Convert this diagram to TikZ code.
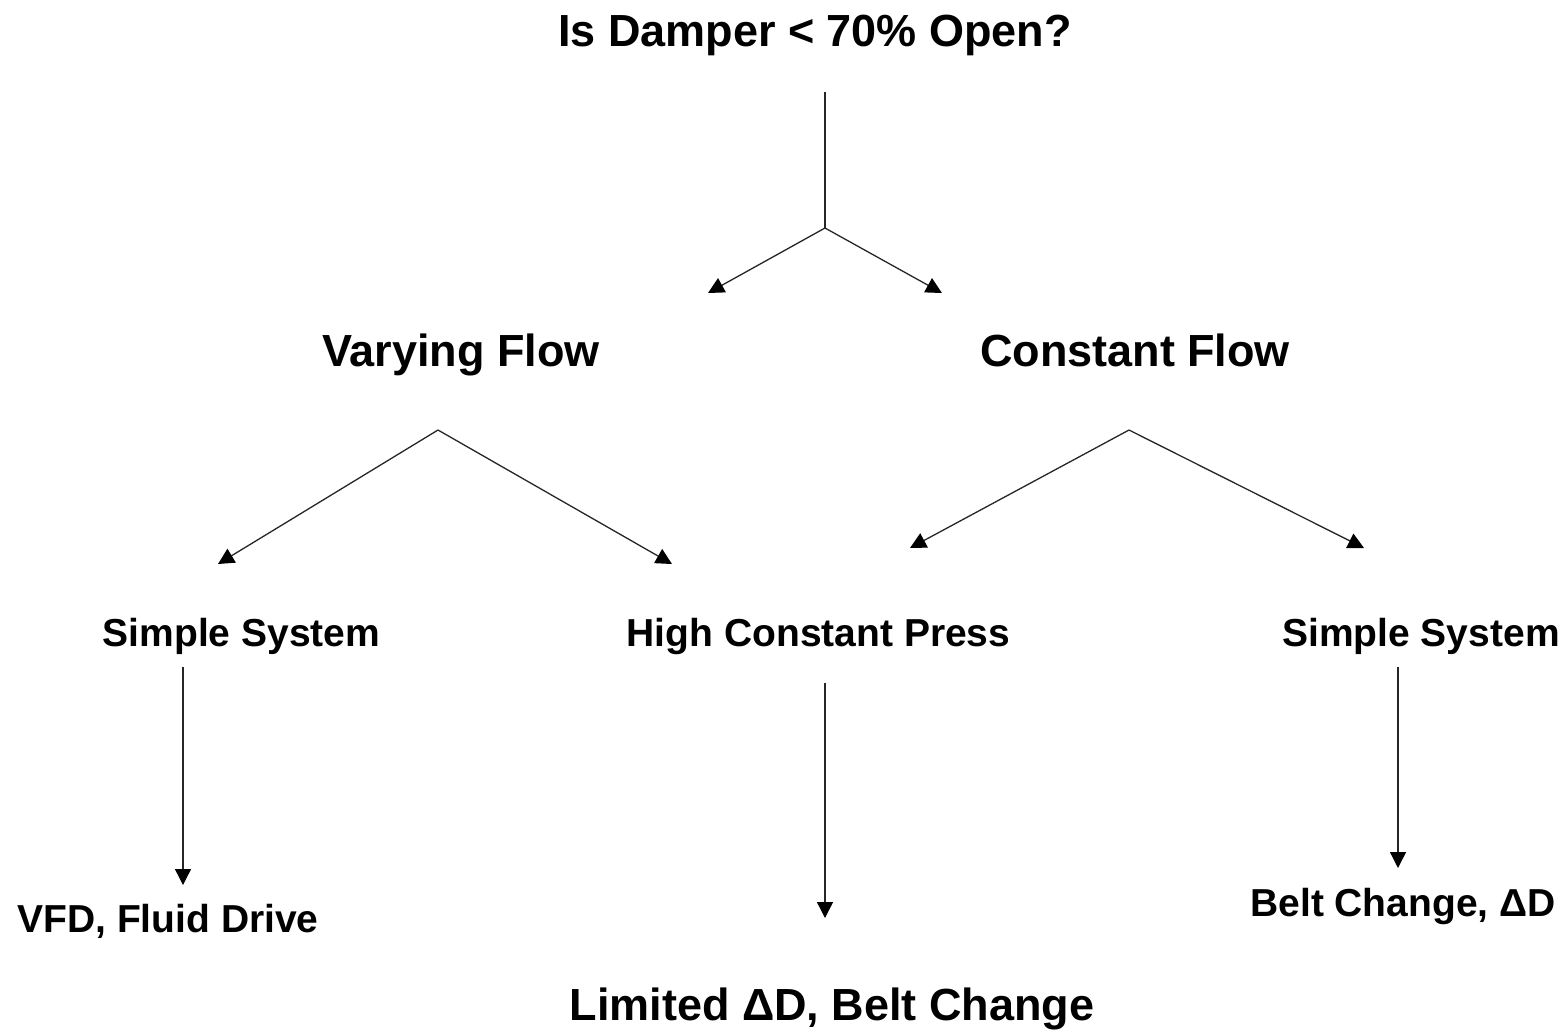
\documentclass[tikz,border=0pt]{standalone}
\usepackage{fontspec}
\setmainfont{Liberation Sans}
\usetikzlibrary{arrows.meta}
\tikzset{
  lbl/.style={inner sep=0pt, anchor=base, font=\bfseries},
  big/.style={lbl, font=\fontsize{45}{50}\selectfont\bfseries},
  small/.style={lbl, font=\fontsize{39}{44}\selectfont\bfseries},
  conn/.style={line width=1.3pt, draw=black!85},
  arr/.style={conn, -{Triangle[length=16pt,width=16pt,color=black]}}
}
\begin{document}
\begin{tikzpicture}[x=1pt,y=-1pt]
\useasboundingbox (0,0) rectangle (1568,1029);
% labels
\node[big] (title) at (815,46) {Is Damper < 70\% Open?};
\node[big] (vary) at (461,366) {Varying Flow};
\node[big] (const) at (1135,366) {Constant Flow};
\node[small] (simpleL) at (241.5,646) {Simple System};
\node[small] (high) at (818.5,646) {High Constant Press};
\node[small] (simpleR) at (1421,646) {Simple System};
\node[small] (vfd) at (168,932) {VFD, Fluid Drive};
\node[small] (beltR) at (1403,916) {Belt Change, ΔD};
\node[big] (limited) at (832,1020) {Limited ΔD, Belt Change};
% connector points
\coordinate (t0) at (825,92);
\coordinate (t1) at (825,228);
\coordinate (tL) at (708,293);
\coordinate (tR) at (942,293);
\coordinate (v0) at (438,430);
\coordinate (vL) at (218,564);
\coordinate (vR) at (672,564);
\coordinate (c0) at (1129,430);
\coordinate (cL) at (910,548);
\coordinate (cR) at (1364,548);
\coordinate (s0) at (183,667);
\coordinate (s1) at (183,885);
\coordinate (h0) at (825,683);
\coordinate (h1) at (825,918);
\coordinate (r0) at (1398,667);
\coordinate (r1) at (1398,868);
% connectors
\draw[conn] (t0) -- (t1);
\draw[arr] (t1) -- (tL);
\draw[arr] (t1) -- (tR);
\draw[arr] (v0) -- (vL);
\draw[arr] (v0) -- (vR);
\draw[arr] (c0) -- (cL);
\draw[arr] (c0) -- (cR);
\draw[arr] (s0) -- (s1);
\draw[arr] (h0) -- (h1);
\draw[arr] (r0) -- (r1);
\end{tikzpicture}
\end{document}
